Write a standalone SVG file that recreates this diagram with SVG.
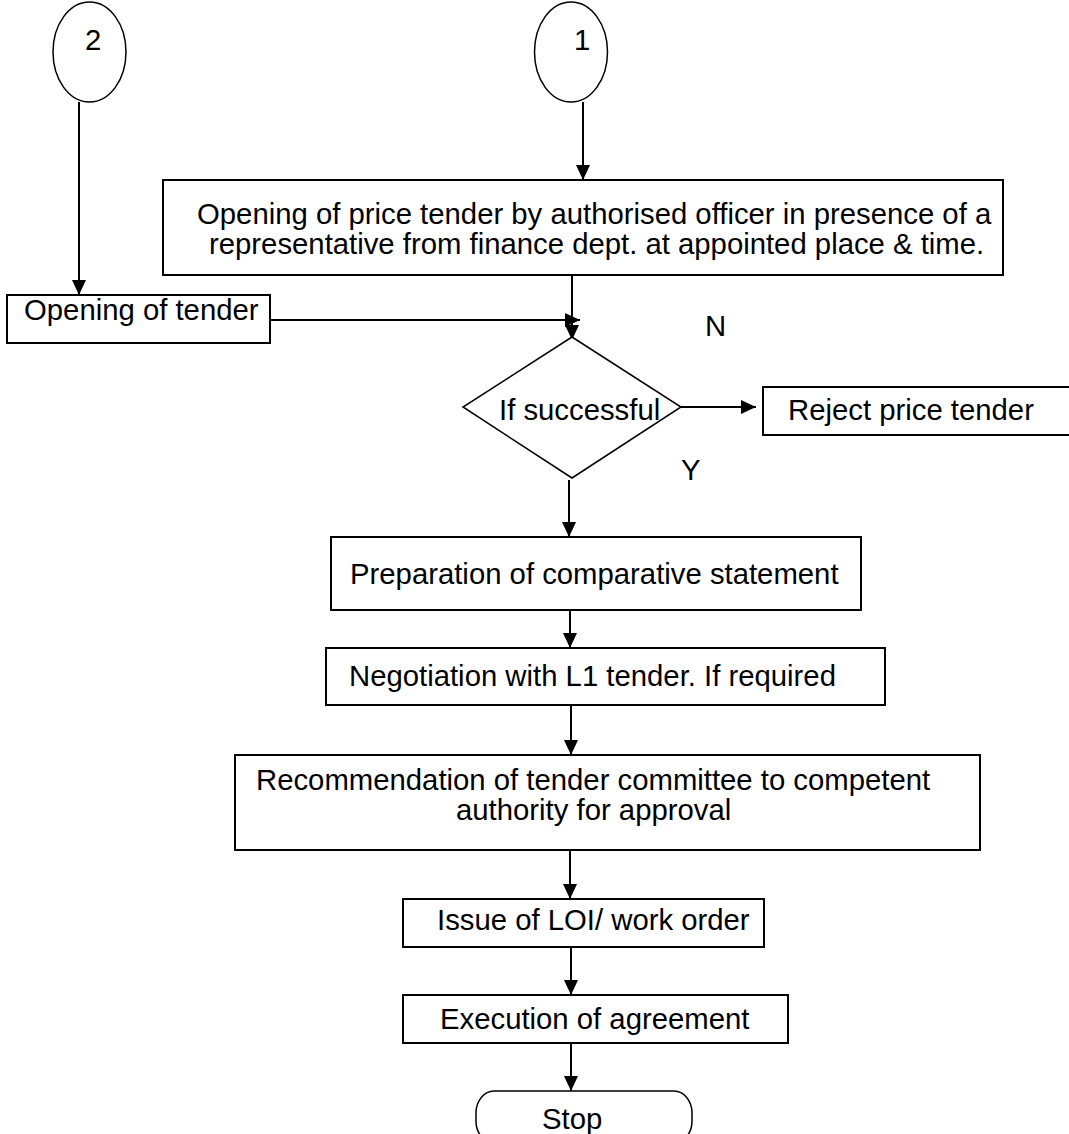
<svg xmlns="http://www.w3.org/2000/svg" width="1069" height="1134" viewBox="0 0 1069 1134">
<defs>
<style>
text{font-family:"Liberation Sans",Arial,sans-serif;font-size:29.3px;fill:#000}
.box{fill:#fff;stroke:#000;stroke-width:2}
.thin{fill:#fff;stroke:#000;stroke-width:1.5}
.conn line{stroke:#000;stroke-width:2;fill:none}
</style>
<marker id="ah" markerUnits="userSpaceOnUse" markerWidth="15" markerHeight="14" refX="15" refY="7" orient="auto" viewBox="0 0 15 14">
<path d="M0,0 L15,7 L0,14 z" fill="#000"/>
</marker>
</defs>
<rect width="1069" height="1134" fill="#fff"/>
<g id="connectors" class="conn">
<line x1="79" y1="102" x2="79" y2="295" marker-end="url(#ah)"/>
<line x1="583" y1="102" x2="583" y2="180" marker-end="url(#ah)"/>
<line x1="572" y1="275" x2="572" y2="340" marker-end="url(#ah)"/>
<line x1="270" y1="320" x2="580" y2="320" marker-end="url(#ah)"/>
<line x1="681" y1="407" x2="756" y2="407" marker-end="url(#ah)"/>
<line x1="569" y1="480" x2="569" y2="537" marker-end="url(#ah)"/>
<line x1="570" y1="610" x2="570" y2="648" marker-end="url(#ah)"/>
<line x1="571" y1="705" x2="571" y2="755" marker-end="url(#ah)"/>
<line x1="570" y1="850" x2="570" y2="899" marker-end="url(#ah)"/>
<line x1="571" y1="947" x2="571" y2="995" marker-end="url(#ah)"/>
<line x1="571" y1="1043" x2="571" y2="1091" marker-end="url(#ah)"/>
</g>
<g id="conn2">
<ellipse class="thin" cx="89.5" cy="52" rx="36.5" ry="50"/>
<text x="85" y="50">2</text>
</g>
<g id="conn1">
<ellipse class="thin" cx="571" cy="52" rx="36.5" ry="50"/>
<text x="574" y="50">1</text>
</g>
<g id="open-price">
<rect class="box" x="163" y="180" width="840" height="95"/>
<text x="197" y="224">Opening of price tender by authorised officer in presence of a</text>
<text x="209" y="254">representative from finance dept. at appointed place &amp; time.</text>
</g>
<g id="open-tender">
<rect class="box" x="7" y="295" width="263" height="48"/>
<text x="24" y="320">Opening of tender</text>
</g>
<g id="decision">
<polygon class="thin" points="572,337 681,407 572,478 463,407"/>
<text x="499" y="420">If successful</text>
</g>
<text x="705" y="336">N</text>
<text x="681" y="480">Y</text>
<g id="reject">
<rect class="box" x="763" y="387" width="320" height="48"/>
<text x="788" y="420">Reject price tender</text>
</g>
<g id="prep">
<rect class="box" x="331" y="537" width="530" height="73"/>
<text x="350" y="584">Preparation of comparative statement</text>
</g>
<g id="nego">
<rect class="box" x="326" y="648" width="559" height="57"/>
<text x="349" y="686">Negotiation with L1 tender. If required</text>
</g>
<g id="recommend">
<rect class="box" x="235" y="755" width="745" height="95"/>
<text x="256" y="790">Recommendation of tender committee to competent</text>
<text x="456" y="820">authority for approval</text>
</g>
<g id="issue">
<rect class="box" x="403" y="899" width="361" height="48"/>
<text x="437" y="930">Issue of LOI/ work order</text>
</g>
<g id="execution">
<rect class="box" x="403" y="995" width="385" height="48"/>
<text x="440" y="1029">Execution of agreement</text>
</g>
<g id="stop">
<rect class="thin" x="476" y="1091" width="216" height="52" rx="18" ry="22"/>
<text x="542" y="1129">Stop</text>
</g>
</svg>
